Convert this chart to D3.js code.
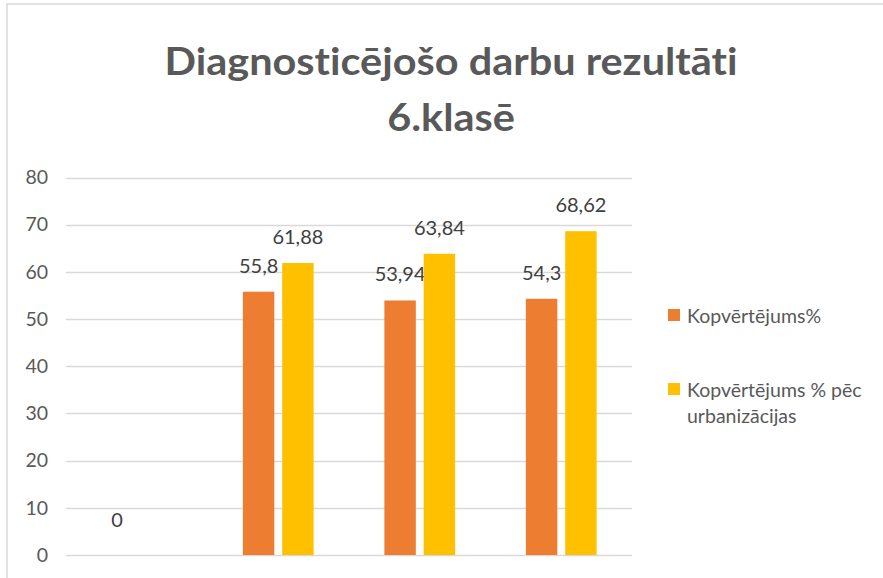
<!DOCTYPE html>
<html>
<head>
<meta charset="utf-8">
<script src="https://cdn.jsdelivr.net/npm/d3@7"></script>
<style>
  body { margin: 0; background: #fff; }
  svg { display: block; font-family: Lato, "Open Sans", sans-serif; font-variant-ligatures: none; }
</style>
</head>
<body>
<svg id="chart" width="883" height="578"></svg>
<script>
// data
const categories = ["1", "2", "3", "4"]
const seriesNames = ["Kopvērtējums%", "Kopvērtējums % pēc urbanizācijas"]
const kopvertejums = [0, 55.8, 53.94, 54.3]
const kopvertejumsUrb = [null, 61.88, 63.84, 68.62]
const yTicks = [0, 10, 20, 30, 40, 50, 60, 70, 80]
const colors = ["#ed7d31", "#ffc000"]

const svg = d3.select('#chart')

// frame of the chart area
svg.append('rect')
  .attr('x', 7).attr('y', 4)
  .attr('width', 900).attr('height', 600)
  .attr('fill', 'none')
  .attr('stroke', '#d9d9d9')
  .attr('stroke-width', 1.5)

// title
const titleLines = ["Diagnosticējošo darbu rezultāti", "6.klasē"]
const tl = svg.append('g')
  .selectAll('text')
  .data(titleLines)
  .join('text')
  .attr('text-anchor', 'middle')
  .attr('font-size', 39)
  .attr('font-weight', 'bold')
  .attr('fill', '#595959')
  .text(d => d)
const k = 573 / tl.node().getComputedTextLength()
tl.attr('transform', (d, i) => `translate(451,${75 + i * 56}) scale(${k},1)`)

// scales
const y = d3.scaleLinear().domain([0, 80]).range([555, 177.5])
const x0 = d3.scaleBand().domain(categories).range([66, 632])
  .paddingInner(0.5).paddingOuter(0.25)
const x1 = d3.scaleBand().domain([0, 1]).range([0, x0.bandwidth()])
  .paddingInner(0.2)

// gridlines
svg.append('g')
  .selectAll('line')
  .data(yTicks)
  .join('line')
  .attr('x1', 66).attr('x2', 632)
  .attr('y1', d => Math.round(y(d)) + 0.5)
  .attr('y2', d => Math.round(y(d)) + 0.5)
  .attr('stroke', '#d9d9d9')
  .attr('stroke-width', 1.3)

// y axis labels
const yAxis = svg.append('g')
  .attr('transform', 'translate(48,0)')
  .call(d3.axisLeft(y).tickValues(yTicks).tickSize(0).tickPadding(0))
yAxis.select('.domain').remove()
yAxis.selectAll('text')
  .attr('font-family', 'Lato, sans-serif')
  .attr('font-size', 19.5)
  .attr('fill', '#595959')

// bars
const rows = categories.map((c, i) => ({ cat: c, vals: [kopvertejums[i], kopvertejumsUrb[i]] }))
const groups = svg.append('g')
  .selectAll('g')
  .data(rows)
  .join('g')
  .attr('transform', d => `translate(${x0(d.cat)},0)`)

const cells = groups.selectAll('g')
  .data(d => d.vals.map((v, s) => ({ v, s })).filter(e => e.v !== null))
  .join('g')

cells.append('rect')
  .attr('x', d => x1(d.s))
  .attr('width', x1.bandwidth())
  .attr('y', d => y(d.v))
  .attr('height', d => y(0) - y(d.v))
  .attr('fill', d => colors[d.s])

cells.append('text')
  .attr('x', d => x1(d.s) + x1.bandwidth() / 2)
  .attr('y', d => y(d.v) - (d.v === 0 ? 28 : 19))
  .attr('text-anchor', 'middle')
  .attr('font-size', 20)
  .attr('fill', '#404040')
  .text(d => String(d.v).replace('.', ','))

// legend
const legendItems = [
  { name: ["Kopvērtējums%"], y: 323 },
  { name: ["Kopvērtējums % pēc", "urbanizācijas"], y: 397 }
]
const legend = svg.append('g')
  .selectAll('g')
  .data(legendItems)
  .join('g')
legend.append('rect')
  .attr('x', 668).attr('y', d => d.y - 14)
  .attr('width', 12).attr('height', 12)
  .attr('fill', (d, i) => colors[i])
legend.append('text')
  .attr('x', 687)
  .attr('y', d => d.y)
  .attr('font-size', 19.5)
  .attr('fill', '#595959')
  .selectAll('tspan')
  .data(d => d.name)
  .join('tspan')
  .attr('x', 687)
  .attr('dy', (d, i) => i === 0 ? 0 : 26)
  .text(d => d)
</script>
</body>
</html>
